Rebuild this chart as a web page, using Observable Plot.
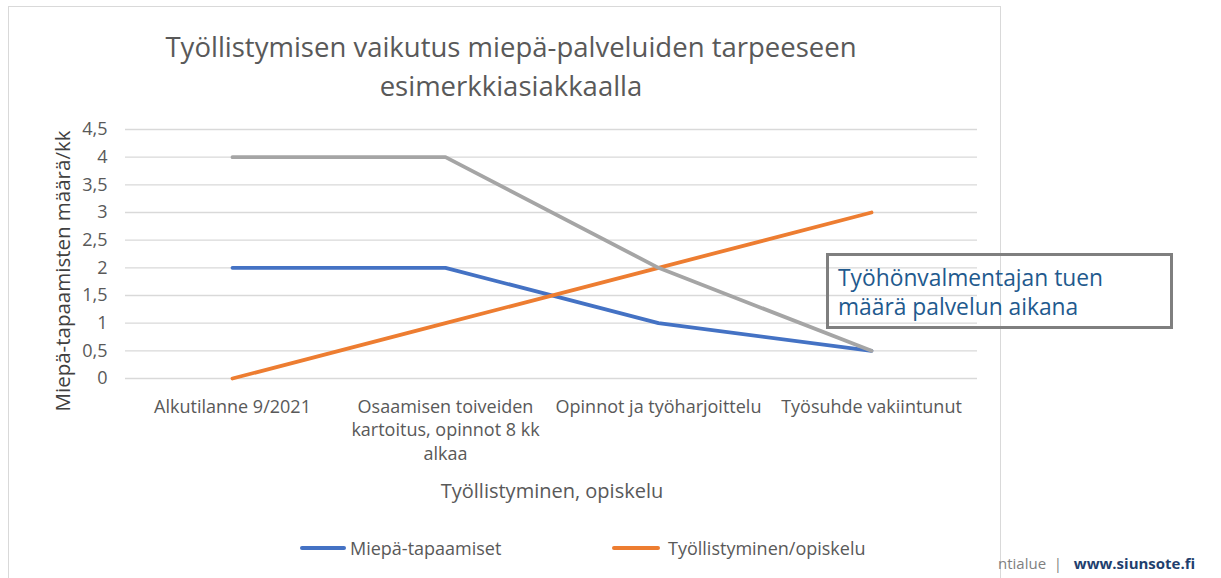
<!DOCTYPE html>
<html><head><meta charset="utf-8">
<script src="https://cdn.jsdelivr.net/npm/d3@7"></script>
<script src="https://cdn.jsdelivr.net/npm/@observablehq/plot@0.6"></script>
<style>
body{margin:0;background:#fff;}
#wrap{position:relative;width:1221px;height:578px;overflow:hidden;font-family:"Open Sans",sans-serif;color:#595959;}
#chart{position:absolute;left:0;top:0;}
#frame{position:absolute;left:8px;top:6px;width:993px;height:600px;border:1.5px solid #d9d9d9;box-sizing:border-box;}
#title{position:absolute;left:0;width:1022px;top:27px;text-align:center;font-size:27.5px;line-height:39px;color:#595959;white-space:nowrap;}
#ylabel{position:absolute;left:62px;top:271px;transform:translate(-50%,-50%) rotate(-90deg);white-space:nowrap;font-size:20.5px;color:#404040;}
#xtitle{position:absolute;left:552px;top:490px;transform:translate(-50%,-50%);white-space:nowrap;font-size:20px;}
.leg{position:absolute;top:548px;transform:translateY(-50%);display:flex;align-items:center;font-size:18px;white-space:nowrap;}
.leg span.sw{display:inline-block;height:4px;border-radius:2px;}
#note{position:absolute;left:826px;top:253px;width:347px;height:76px;border:3px solid #7f7f7f;box-sizing:border-box;font-family:"Open Sans",sans-serif;font-size:22.8px;line-height:29px;color:#1f5a8e;padding:7px 0 0 9px;white-space:nowrap;}
#footer{position:absolute;left:998px;top:563px;transform:translateY(-50%);font-family:"Open Sans",sans-serif;font-size:15px;white-space:nowrap;color:#7f7f7f;}
#footer b{color:#1f3f6e;}
</style></head><body><div id="wrap">
<div id="frame"></div>
<div id="chart"></div>
<div id="title">Työllistymisen vaikutus miepä-palveluiden tarpeeseen<br>esimerkkiasiakkaalla</div>
<div id="ylabel">Miepä-tapaamisten määrä/kk</div>
<div id="xtitle">Työllistyminen, opiskelu</div>
<div class="leg" style="left:300px"><span class="sw" style="background:#4472c4;width:46px;margin-right:4px"></span>Miepä-tapaamiset</div>
<div class="leg" style="left:612px"><span class="sw" style="background:#ed7d31;width:48px;margin-right:8px"></span>Työllistyminen/opiskelu</div>
<div id="note">Työhönvalmentajan tuen<br>määrä palvelun aikana</div>
<div id="footer">ntialue &nbsp;| &nbsp; <b>www.siunsote.fi</b></div>
</div>
<script>
const categories = ["Alkutilanne 9/2021", "Osaamisen toiveiden kartoitus, opinnot 8 kk alkaa", "Opinnot ja työharjoittelu", "Työsuhde vakiintunut"];
const tickLabels = ["Alkutilanne 9/2021", "Osaamisen toiveiden\nkartoitus, opinnot 8 kk\nalkaa", "Opinnot ja työharjoittelu", "Työsuhde vakiintunut"];
const seriesNames = ["Miepä-tapaamiset", "Työllistyminen/opiskelu", "Työhönvalmentajan tuki"];
const seriesColors = ["#4472c4", "#ed7d31", "#a5a5a5"];
const miepaTapaamiset = [2, 2, 1, 0.5];
const tyollistyminen = [0, 1, 2, 3];
const tyohonvalmentaja = [4, 4, 2, 0.5];
const yTicks = [0, 0.5, 1, 1.5, 2, 2.5, 3, 3.5, 4, 4.5];

const seriesValues = [miepaTapaamiset, tyollistyminen, tyohonvalmentaja];
const data = seriesNames.flatMap((s, i) => categories.map((c, j) => ({series: s, cat: c, value: seriesValues[i][j]})));

const chart = Plot.plot({
  width: 1221,
  height: 578,
  marginLeft: 125,
  marginRight: 244,
  marginTop: 129,
  marginBottom: 200,
  style: {fontFamily: '"Open Sans",sans-serif', fontSize: "18px", color: "#595959", background: "transparent"},
  x: {type: "point", domain: categories, padding: 0.5, label: null},
  y: {domain: [0, 4.5], label: null},
  color: {domain: seriesNames, range: seriesColors},
  marks: [
    Plot.gridY(yTicks, {stroke: "#d9d9d9", strokeOpacity: 1, strokeWidth: 1.3}),
    Plot.axisY(yTicks, {tickSize: 0, tickPadding: 18, tickFormat: d => String(d).replace(".", ","), label: null, fontSize: 18}),
    Plot.axisX({tickSize: 0, tickPadding: 17, tickFormat: d => tickLabels[categories.indexOf(d)], lineHeight: 1.33, label: null, fontSize: 18}),
    Plot.lineY(data, {x: "cat", y: "value", z: "series", stroke: "series", strokeWidth: 3.8, strokeLinecap: "round", strokeLinejoin: "round"})
  ]
});
document.getElementById("chart").appendChild(chart);
</script>
</body></html>
